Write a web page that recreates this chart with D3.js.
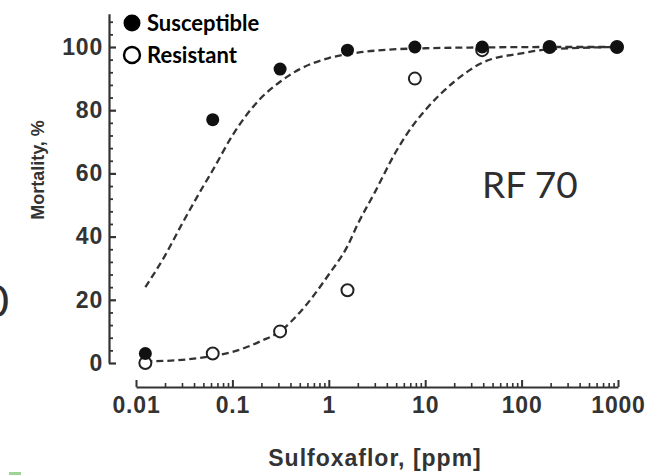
<!DOCTYPE html>
<html>
<head>
<meta charset="utf-8">
<script src="https://cdn.jsdelivr.net/npm/d3@7"></script>
<style>
  body { margin: 0; background: #fff; }
  svg { display: block; }
</style>
</head>
<body>
<div id="chart"></div>
<script>
// doses (ppm) and mortality (%)
const doses = [0.0125, 0.0625, 0.3125, 1.5625, 7.8125, 39, 195, 977];
const susceptible = [3, 77, 93, 99, 100, 100, 100, 100];
const resistant = [0, 3, 10, 23, 90, 99, 100, 100];

// fitted curves, points
const sCurveX = [0.0125, 0.02, 0.03, 0.05, 0.0625, 0.1, 0.2, 0.3125, 0.5, 1, 2, 5, 10, 50, 200, 1000];
const sCurveY = [24, 34, 44, 56, 61, 72, 84, 89, 93, 96.5, 98.2, 99.3, 99.6, 99.9, 100, 100];
const rCurveX = [0.0125, 0.03, 0.0625, 0.1, 0.2, 0.3125, 0.5, 1, 1.5625, 2, 3, 5, 7.8125, 10, 20, 39, 100, 200, 1000];
const rCurveY = [0.5, 1, 2.2, 3.5, 7, 10, 16, 28, 37, 44, 54, 67, 76, 80, 89, 95, 98, 99.3, 100];

const xTicks = [0.01, 0.1, 1, 10, 100, 1000];
const yTicks = [0, 20, 40, 60, 80, 100];

const width = 658, height = 475;

const svg = d3.select("#chart").append("svg")
  .attr("width", width)
  .attr("height", height);

const x = d3.scaleLog().domain([0.01, 1000]).range([136, 618]);
const y = d3.scaleLinear().domain([0, 100]).range([363, 47]);

const ink = "#333";
const tickFont = "'Liberation Sans', Arial, sans-serif";

// y axis (ticks point inward, labels left)
const yAxis = svg.append("g")
  .attr("transform", "translate(109,0)")
  .call(d3.axisLeft(y.copy().domain([0, 110.5]).range([363, 363 - 110.5 * 3.16]))
    .tickValues(yTicks).tickSizeInner(-7).tickSizeOuter(0).tickPadding(6));
yAxis.select(".domain").attr("stroke", ink).attr("stroke-width", 2.2);
yAxis.selectAll(".tick line").attr("stroke", ink).attr("stroke-width", 2.2);
yAxis.selectAll(".tick text")
  .attr("fill", ink).attr("font-size", 23).attr("font-weight", "bold")
  .attr("font-family", tickFont).attr("letter-spacing", 0.8);

const yMinor = d3.range(4, 110, 4).filter(v => v % 20 !== 0);
svg.append("g")
  .attr("transform", "translate(109,0)")
  .call(d3.axisLeft(y).tickValues(yMinor).tickSizeInner(-4).tickSizeOuter(0).tickFormat(""))
  .call(g => g.select(".domain").remove())
  .selectAll(".tick line").attr("stroke", ink).attr("stroke-width", 1.8);

// x axis (ticks point up, labels below)
const xAxis = svg.append("g")
  .attr("transform", "translate(0,387)")
  .call(d3.axisBottom(x).tickValues(xTicks).tickFormat(d => String(d))
    .tickSizeInner(-7).tickSizeOuter(0).tickPadding(10));
xAxis.select(".domain").attr("stroke", ink).attr("stroke-width", 2.2);
xAxis.selectAll(".tick line").attr("stroke", ink).attr("stroke-width", 2);
xAxis.selectAll(".tick text")
  .attr("fill", ink).attr("font-size", 23).attr("font-weight", "bold")
  .attr("font-family", tickFont).attr("letter-spacing", 0.8);

const xMinor = [];
[0.01, 0.1, 1, 10, 100].forEach(d => { for (let k = 2; k <= 9; k++) xMinor.push(d * k); });
svg.append("g")
  .attr("transform", "translate(0,387)")
  .call(d3.axisBottom(x).tickValues(xMinor).tickSizeInner(-4).tickSizeOuter(0).tickFormat(""))
  .call(g => g.select(".domain").remove())
  .selectAll(".tick line").attr("stroke", ink).attr("stroke-width", 1.6);

// axis titles
svg.append("text")
  .attr("x", 375).attr("y", 466)
  .attr("text-anchor", "middle")
  .attr("font-family", tickFont).attr("font-weight", "bold").attr("font-size", 23)
  .attr("letter-spacing", 1)
  .attr("fill", ink)
  .text("Sulfoxaflor, [ppm]");

svg.append("text")
  .attr("transform", "translate(44,170) rotate(-90)")
  .attr("text-anchor", "middle")
  .attr("font-family", tickFont).attr("font-weight", "bold").attr("font-size", 18)
  .attr("fill", ink)
  .text("Mortality, %");

// fitted curves
const line = d3.line()
  .x(d => x(d[0]))
  .y(d => y(d[1]))
  .curve(d3.curveMonotoneX);

[[sCurveX, sCurveY], [rCurveX, rCurveY]].forEach(([cx, cy]) => {
  svg.append("path")
    .datum(cx.map((v, i) => [v, cy[i]]))
    .attr("d", line)
    .attr("fill", "none")
    .attr("stroke", ink)
    .attr("stroke-width", 2.3)
    .attr("stroke-dasharray", "7,4");
});

// points
svg.selectAll(".res")
  .data(doses.map((d, i) => [d, resistant[i]]))
  .enter().append("circle")
    .attr("class", "res")
    .attr("cx", d => x(d[0]))
    .attr("cy", d => y(d[1]))
    .attr("r", 6)
    .attr("fill", "#fff")
    .attr("stroke", "#222")
    .attr("stroke-width", 2);

svg.selectAll(".sus")
  .data(doses.map((d, i) => [d, susceptible[i]]))
  .enter().append("circle")
    .attr("class", "sus")
    .attr("cx", d => x(d[0]))
    .attr("cy", d => y(d[1]))
    .attr("r", 6.5)
    .attr("fill", "#111");

// legend
const legend = svg.append("g").attr("font-family", "Lato, 'Open Sans', sans-serif")
  .attr("font-weight", "bold").attr("font-size", 22).attr("fill", "#000");
legend.append("circle").attr("cx", 132).attr("cy", 23).attr("r", 8.5).attr("fill", "#000");
legend.append("text").attr("x", 147).attr("y", 31).text("Susceptible");
legend.append("circle").attr("cx", 132).attr("cy", 55).attr("r", 8)
  .attr("fill", "#fff").attr("stroke", "#000").attr("stroke-width", 2.4);
legend.append("text").attr("x", 147).attr("y", 63).text("Resistant");

// resistance factor annotation
svg.append("text")
  .attr("x", 482).attr("y", 198)
  .attr("font-family", "Lato, 'Open Sans', sans-serif").attr("font-size", 37)
  .attr("fill", "#2e2e2e")
  .text("RF 70");

// fragment of the neighbouring panel
svg.append("text")
  .attr("x", 9).attr("y", 317)
  .attr("text-anchor", "end")
  .attr("font-family", "Lato, 'Open Sans', sans-serif").attr("font-size", 44)
  .attr("fill", "#2e2e2e")
  .text("0");
svg.append("rect")
  .attr("x", 9).attr("y", 472).attr("width", 12).attr("height", 3)
  .attr("fill", "#9fd39a");
</script>
</body>
</html>
